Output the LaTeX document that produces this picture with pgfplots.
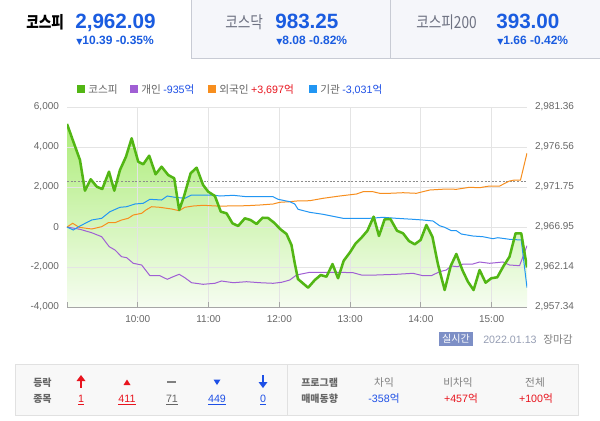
\documentclass[border=0pt]{standalone}
\usepackage{pgfplots}
\usepackage{pgfplotstable}
\pgfplotsset{compat=1.18}
\usepackage{fontspec}
\setmainfont{Liberation Sans}
\newfontfamily\kr{Noto Sans CJK KR}
\newfontfamily\krn[FakeStretch=0.82]{Noto Sans CJK KR}
\newfontfamily\dv{DejaVu Sans}
\definecolor{kgreen}{RGB}{82,182,20}
\definecolor{korange}{RGB}{247,142,30}
\definecolor{kblue}{RGB}{33,150,243}
\definecolor{kpurple}{RGB}{160,95,212}
\definecolor{hblue}{RGB}{26,92,224}
\definecolor{nred}{RGB}{232,20,30}
\definecolor{nblue}{RGB}{30,80,230}
\definecolor{tgray}{RGB}{102,102,102}
\definecolor{gridc}{RGB}{228,228,228}
\definecolor{filltop}{RGB}{172,236,120}
\definecolor{fillbot}{RGB}{246,253,241}
\definecolor{tabbg}{RGB}{245,246,250}
\definecolor{tabline}{RGB}{200,203,212}
\definecolor{tabtext}{RGB}{110,114,130}
\definecolor{boxbg}{RGB}{248,248,248}
\definecolor{boxline}{RGB}{225,225,225}
\definecolor{badge}{RGB}{125,143,198}
\definecolor{dategray}{RGB}{150,158,180}
\pgfplotsset{every axis plot/.append style={mark=none}}

\pgfplotstableread{
t k
0 2979.32
11.0 2974.99
15.2 2971.31
20.1 2972.68
25.2 2971.79
29.9 2971.51
35.6 2973.59
40.1 2971.31
44.9 2973.79
50.0 2975.39
54.8 2977.60
60.4 2974.79
64.6 2974.48
69.7 2975.51
75.1 2973.28
80.2 2974.19
85.8 2973.19
90.9 2972.80
95.1 2968.99
99.1 2970.59
104.8 2973.40
109.9 2974.07
115.4 2971.99
119.7 2971.19
125.4 2970.67
130.4 2968.79
135.3 2968.59
140.3 2967.39
145.1 2967.07
150.8 2967.99
155.6 2967.79
160.7 2967.31
165.8 2968.06
170.5 2968.03
175.6 2967.46
181.0 2966.67
186.1 2966.11
190.3 2964.79
193.1 2962.59
195.8 2960.70
204.4 2959.66
210.1 2960.58
215.1 2961.18
220.0 2960.98
225.1 2962.50
229.8 2960.79
234.6 2962.90
239.7 2963.86
244.8 2964.99
249.6 2965.66
254.7 2966.50
260.0 2968.19
264.5 2965.87
269.3 2967.87
274.2 2967.91
279.8 2966.50
284.9 2966.19
289.9 2965.27
294.8 2964.87
299.8 2965.39
304.7 2967.19
309.8 2965.78
314.5 2962.47
320.2 2959.38
325.3 2962.26
330.1 2963.71
335.2 2961.78
339.9 2960.38
344.7 2959.38
349.8 2961.78
354.9 2960.26
359.7 2960.79
364.8 2960.91
370.1 2962.26
375.2 2963.38
380.3 2966.19
385.1 2966.19
390 2962.09
}\kospi

\pgfplotstableread{
t v
0 0
4.8 185
10.4 -15
20.9 -100
29.4 15
35.0 215
40.7 215
46.3 350
51.9 435
56.2 600
63.3 685
66.9 850
71.7 1015
78.8 985
88.7 900
95.1 815
99.9 985
107.0 1050
115.4 1085
126.8 1050
135.3 1050
152.2 1065
163.5 1100
174.7 1150
180.4 1235
188.9 1265
194.6 1300
205.8 1315
217.1 1435
231.2 1550
245.4 1650
251.0 1765
259.4 1765
265.1 1685
273.6 1685
284.9 1715
296.2 1685
307.5 1850
321.6 1900
330.1 1885
341.3 1985
349.8 1965
358.3 2050
366.8 2050
375.2 2300
379.5 2350
384.5 2350
390 3697
}\foreign

\pgfplotstableread{
t v
0 0
5.3 -150
11.0 50
20.9 350
29.4 435
36.4 765
44.9 985
50.6 1015
57.6 1150
64.6 1185
70.3 1385
80.2 1350
85.0 1550
91.5 1485
99.9 1435
105.6 1600
115.4 1600
123.9 1600
129.6 1550
140.9 1585
152.2 1515
174.7 1515
179.0 1385
188.9 1265
193.1 1150
195.9 885
205.8 735
217.1 635
234.0 435
256.6 435
267.9 485
279.3 435
293.3 385
301.8 350
310.3 300
315.9 65
320.2 -15
325.8 -185
330.1 -185
334.3 -350
344.1 -450
352.6 -485
361.1 -585
365.3 -535
375.2 -615
385.1 -650
390 -3031
}\inst

\pgfplotstableread{
t v
0 0
11.0 -115
20.9 -285
29.4 -485
35.8 -985
40.7 -1150
46.3 -1485
50.6 -1535
56.2 -1815
63.3 -1900
70.3 -2435
78.8 -2435
85.0 -2615
90.0 -2485
95.1 -2365
99.9 -2535
105.6 -2785
115.4 -2865
125.4 -2815
131.0 -2700
140.9 -2785
152.2 -2735
163.5 -2785
174.7 -2815
181.9 -2765
188.9 -2650
194.6 -2400
205.8 -2265
231.2 -2265
242.5 -2285
249.6 -2400
262.3 -2400
279.3 -2365
293.3 -2315
301.8 -2435
308.9 -2435
315.9 -2235
321.6 -2150
325.8 -1950
331.4 -1985
335.7 -1850
344.1 -1850
349.8 -1750
358.3 -1815
369.6 -1750
375.2 -1900
383.7 -1935
390 -935
}\indiv

\begin{document}
\begin{tikzpicture}
\begin{scope}[x=0.75pt,y=-0.75pt]
\path[use as bounding box] (0,0) rectangle (600,421);
\fill[white] (0,0) rectangle (600,421);
% ---- tabs
\fill[tabbg] (191,0) rectangle (600,58);
\draw[tabline, line width=0.75pt] (191,0) -- (191,58) -- (600,58);
\draw[tabline, line width=0.75pt] (390,0) -- (390,58);
\node[anchor=base west, inner sep=0] at (26,28) {\krn\bfseries\fontsize{12.5}{14}\selectfont 코스피};
\node[anchor=base west, inner sep=0, text=hblue] at (75,28) {\bfseries\fontsize{15.5}{16}\selectfont 2,962.09};
\node[anchor=base west, inner sep=0, text=hblue] at (76,44) {{\dv\fontsize{6}{6}\selectfont ▼}\bfseries\fontsize{9}{10}\selectfont 10.39 -0.35\%};
\node[anchor=base west, inner sep=0, text=tabtext] at (225,28) {\krn\fontsize{12.5}{14}\selectfont 코스닥};
\node[anchor=base west, inner sep=0, text=hblue] at (275,28) {\bfseries\fontsize{15.5}{16}\selectfont 983.25};
\node[anchor=base west, inner sep=0, text=hblue] at (276,44) {{\dv\fontsize{6}{6}\selectfont ▼}\bfseries\fontsize{9}{10}\selectfont 8.08 -0.82\%};
\node[anchor=base west, inner sep=0, text=tabtext] at (416,28) {\krn\fontsize{12.5}{14}\selectfont 코스피200};
\node[anchor=base west, inner sep=0, text=hblue] at (496,28) {\bfseries\fontsize{15.5}{16}\selectfont 393.00};
\node[anchor=base west, inner sep=0, text=hblue] at (497,44) {{\dv\fontsize{6}{6}\selectfont ▼}\bfseries\fontsize{9}{10}\selectfont 1.66 -0.42\%};
% ---- legend
\fill[kgreen] (77,85) rectangle (85,93);
\node[anchor=base west, inner sep=0, text=tgray] at (88,93) {\kr\fontsize{8}{9}\selectfont 코스피};
\fill[kpurple] (130,85) rectangle (138,93);
\node[anchor=base west, inner sep=0, text=tgray] at (141,93) {\kr\fontsize{8}{9}\selectfont 개인 \textcolor{nblue}{\rmfamily -935\kr 억}};
\fill[korange] (208,85) rectangle (216,93);
\node[anchor=base west, inner sep=0, text=tgray] at (219,93) {\kr\fontsize{8}{9}\selectfont 외국인 \textcolor{nred}{\rmfamily +3,697\kr 억}};
\fill[kblue] (309,85) rectangle (317,93);
\node[anchor=base west, inner sep=0, text=tgray] at (320,93) {\kr\fontsize{8}{9}\selectfont 기관 \textcolor{nblue}{\rmfamily -3,031\kr 억}};
% ---- date line
\fill[badge] (439,332) rectangle (473,346);
\node[text=white, inner sep=0] at (456,339) {\kr\fontsize{7.5}{8}\selectfont 실시간};
\node[anchor=base west, inner sep=0, text=dategray] at (483,343) {\fontsize{8}{9}\selectfont 2022.01.13};
\node[anchor=base west, inner sep=0, text=gray] at (543,343) {\kr\fontsize{8}{9}\selectfont 장마감};
% ---- bottom box
\filldraw[fill=boxbg, draw=boxline, line width=0.75pt] (15,364) rectangle (578,415);
\draw[boxline, line width=0.75pt] (287,364) -- (287,415);
\node[anchor=base west, inner sep=0, text=tgray] at (33,386) {\kr\bfseries\fontsize{7.5}{8}\selectfont 등락};
\node[anchor=base west, inner sep=0, text=tgray] at (33,402) {\kr\bfseries\fontsize{7.5}{8}\selectfont 종목};
\fill[nred] (79.8,380) rectangle (82.2,388);
\fill[nred] (76.5,381) -- (85.5,381) -- (81,375) -- cycle;
\node[anchor=base, inner sep=0, text=nred] at (81,402) {\fontsize{8}{9}\selectfont\underline{1}};
\fill[nred] (123.5,385) -- (130.5,385) -- (127,379.5) -- cycle;
\node[anchor=base, inner sep=0, text=nred] at (127,402) {\fontsize{8}{9}\selectfont\underline{411}};
\fill[gray] (167,380.5) rectangle (176,382.5);
\node[anchor=base, inner sep=0, text=tgray] at (172,402) {\fontsize{8}{9}\selectfont\underline{71}};
\fill[nblue] (213.5,379.5) -- (220.5,379.5) -- (217,385) -- cycle;
\node[anchor=base, inner sep=0, text=nblue] at (217,402) {\fontsize{8}{9}\selectfont\underline{449}};
\fill[nblue] (261.8,375) rectangle (264.2,383);
\fill[nblue] (258.5,382) -- (267.5,382) -- (263,388) -- cycle;
\node[anchor=base, inner sep=0, text=nblue] at (263,402) {\fontsize{8}{9}\selectfont\underline{0}};
\node[anchor=base west, inner sep=0, text=tgray] at (301,386) {\kr\bfseries\fontsize{7.5}{8}\selectfont 프로그램};
\node[anchor=base west, inner sep=0, text=tgray] at (301,402) {\kr\bfseries\fontsize{7.5}{8}\selectfont 매매동향};
\node[anchor=base, inner sep=0, text=gray] at (384,386) {\kr\fontsize{8}{9}\selectfont 차익};
\node[anchor=base, inner sep=0, text=nblue] at (384,402) {\fontsize{8}{9}\selectfont -358{\kr 억}};
\node[anchor=base, inner sep=0, text=gray] at (458,386) {\kr\fontsize{8}{9}\selectfont 비차익};
\node[anchor=base, inner sep=0, text=nred] at (461,402) {\fontsize{8}{9}\selectfont +457{\kr 억}};
\node[anchor=base, inner sep=0, text=gray] at (535,386) {\kr\fontsize{8}{9}\selectfont 전체};
\node[anchor=base, inner sep=0, text=nred] at (536,402) {\fontsize{8}{9}\selectfont +100{\kr 억}};
\end{scope}

% ---- axis 1: KOSPI fill, grid, x axis, right labels
\begin{axis}[
  at={(50.25pt,-230.25pt)}, anchor=south west, scale only axis,
  width=345pt, height=150pt,
  xmin=0, xmax=390, ymin=2957.34, ymax=2981.36,
  axis on top,
  axis x line*=bottom, axis y line*=right,
  y axis line style={draw=none},
  x axis line style={draw=black!35, line width=0.75pt, -},
  xtick={60,120,180,240,300,360},
  xticklabels={10:00,11:00,12:00,13:00,14:00,15:00},
  extra x ticks={0}, extra x tick labels={}, extra x tick style={grid=none},
  xtick align=inside, major tick length=4pt,
  xtick style={draw=black!35, line width=0.6pt},
  ytick={2957.34,2962.144,2966.948,2971.752,2976.556,2981.36},
  yticklabels={{2,957.34},{2,962.14},{2,966.95},{2,971.75},{2,976.56},{2,981.36}},
  ytick style={draw=none},
  ymajorgrids, xmajorgrids, grid style={gridc, line width=0.6pt},
  tick label style={font=\fontsize{7.5}{8}\selectfont, text=tgray},
  yticklabel style={xshift=2.5pt},
  xticklabel style={yshift=-3pt},
]
\addplot[draw=none, top color=filltop, bottom color=fillbot] table[x=t,y=k] {\kospi} |- (axis cs:0,2957.34) -- cycle;
\addplot[black!45, dash pattern=on 1.5pt off 1.2pt, line width=0.6pt] coordinates {(0,2972.48) (390,2972.48)};
\end{axis}

% ---- axis 2: investor lines, left labels
\begin{axis}[
  at={(50.25pt,-230.25pt)}, anchor=south west, scale only axis,
  width=345pt, height=150pt,
  xmin=0, xmax=390, ymin=-4000, ymax=6000,
  axis x line=none, axis y line*=left,
  y axis line style={draw=none}, ytick style={draw=none},
  ytick={-4000,-2000,0,2000,4000,6000},
  yticklabels={{-4,000},{-2,000},0,{2,000},{4,000},{6,000}},
  tick label style={font=\fontsize{7.5}{8}\selectfont, text=tgray},
  yticklabel style={xshift=-2.5pt},
]
\addplot[kpurple, line width=0.75pt] table[x=t,y=v] {\indiv};
\addplot[korange, line width=0.75pt] table[x=t,y=v] {\foreign};
\addplot[kblue, line width=0.75pt] table[x=t,y=v] {\inst};
\end{axis}

% ---- axis 3: KOSPI line
\begin{axis}[
  at={(50.25pt,-230.25pt)}, anchor=south west, scale only axis,
  width=345pt, height=150pt,
  xmin=0, xmax=390, ymin=2957.34, ymax=2981.36,
  hide axis,
]
\addplot[kgreen, line width=1.9pt, line join=round] table[x=t,y=k] {\kospi};
\end{axis}
\end{tikzpicture}
\end{document}
